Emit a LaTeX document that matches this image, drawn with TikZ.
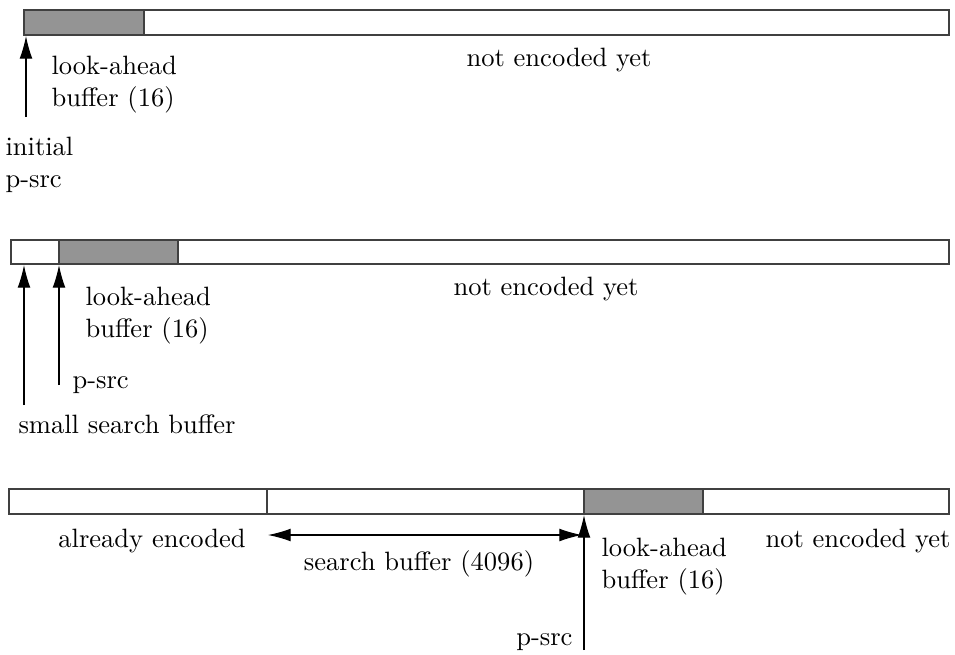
\documentclass[tikz,border=0pt]{standalone}
\usepackage{tikz}
\usetikzlibrary{arrows.meta}
\colorlet{bufgray}{black!42}
\colorlet{barline}{black!75}

\begin{document}
\begin{tikzpicture}[x=0.377pt,y=-0.377pt,>={Latex[length=8.5pt,width=4.8pt]},
  lbl/.style={inner sep=0pt},
  ptr/.style={->,line width=0.4pt},
  bar/.style={draw=barline,line width=0.45pt}]
\useasboundingbox (0,0) rectangle (955,654);
% initial state
\draw[bar] (24,10) rectangle (949,35);
\filldraw[bar,fill=bufgray] (24,10) rectangle (144,35);
\coordinate (tipA) at (26,36); \coordinate (baseA) at (26,117);
\draw[ptr] (baseA) -- (tipA);
\node[lbl,anchor=north west,align=left] (lookA) at (51,55.6) {look-ahead\\buffer (16)};
\node[lbl,anchor=base] (restA) at (559,66) {not encoded yet};
\node[lbl,anchor=north west,align=left] (initA) at (5,136.6) {initial\\p-src};
% after a few steps
\draw[bar] (11,240) rectangle (949,264);
\filldraw[bar,fill=bufgray] (59,240) rectangle (178,264);
\coordinate (tipB) at (24,265); \coordinate (baseB) at (24,405);
\coordinate (tipC) at (59,265); \coordinate (baseC) at (59,385);
\draw[ptr] (baseB) -- (tipB); \draw[ptr] (baseC) -- (tipC);
\node[lbl,anchor=north west,align=left] (lookB) at (85,286.6) {look-ahead\\buffer (16)};
\node[lbl,anchor=base] (restB) at (546,295) {not encoded yet};
\node[lbl,anchor=base west] (psrcB) at (72,388) {p-src};
\node[lbl,anchor=base west] (smallB) at (18,433) {small search buffer};
% steady state
\draw[bar] (9,489) rectangle (949,514);
\draw[bar] (267,489) -- (267,514);
\filldraw[bar,fill=bufgray] (584,489) rectangle (703,514);
\coordinate (winL) at (268,535); \coordinate (winR) at (582,535);
\draw[<->,line width=0.4pt] (winL) -- (winR);
\coordinate (tipD) at (584,515); \coordinate (baseD) at (584,650);
\draw[ptr] (baseD) -- (tipD);
\node[lbl,anchor=base] (doneC) at (152,547) {already encoded};
\node[lbl,anchor=base] (winC) at (419,570) {search buffer (4096)};
\node[lbl,anchor=north west,align=left] (lookC) at (601,537.6) {look-ahead\\buffer (16)};
\node[lbl,anchor=base] (restC) at (858,547) {not encoded yet};
\node[lbl,anchor=base east] (psrcC) at (573,645) {p-src};
\end{tikzpicture}
\end{document}
